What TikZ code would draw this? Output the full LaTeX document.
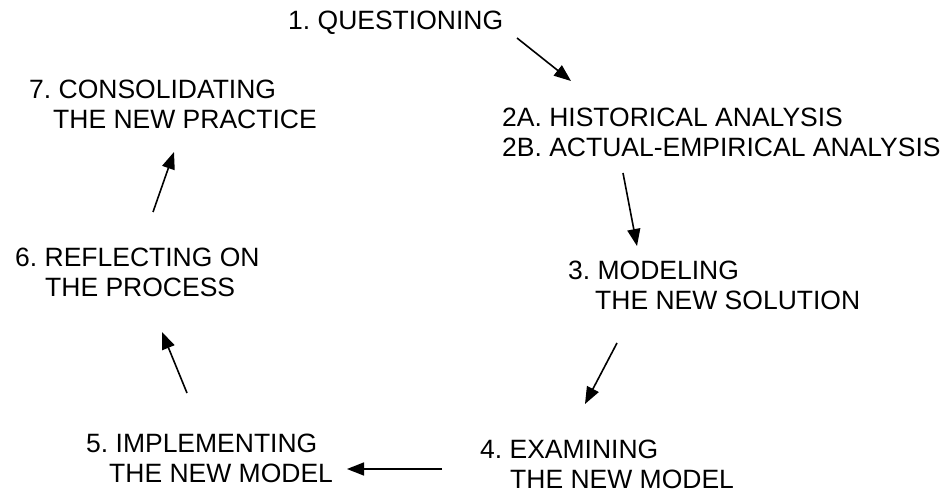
\documentclass[tikz,border=0pt]{standalone}
\usepackage{fontspec}
\setmainfont{Liberation Sans}
\usetikzlibrary{arrows.meta}
\frenchspacing
\begin{document}
\begin{tikzpicture}[x=1pt,y=-1pt,
  stage/.style={anchor=base west,inner sep=0pt,align=left,
    font=\fontsize{26.5}{30}\selectfont},
  flow/.style={line width=1.6pt,-{Triangle[length=17pt,width=13pt]}}]
\useasboundingbox (0,0) rectangle (948,494);
% stage labels (placed by the baseline of their last line)
\node[stage] (q) at (288,30) {1. QUESTIONING};
\node[stage] (an) at (502,157) {2A. HISTORICAL ANALYSIS\\2B. ACTUAL-EMPIRICAL ANALYSIS};
\node[stage] (mo) at (568,310) {3. MODELING\\\hspace*{27pt}THE NEW SOLUTION};
\node[stage] (ex) at (480,488) {4. EXAMINING\\\hspace*{30pt}THE NEW MODEL};
\node[stage] (im) at (86,482) {5. IMPLEMENTING\\\hspace*{23pt}THE NEW MODEL};
\node[stage] (re) at (15,297) {6. REFLECTING ON\\\hspace*{30pt}THE PROCESS};
\node[stage] (co) at (29,129) {7. CONSOLIDATING\\\hspace*{24pt}THE NEW PRACTICE};
% arrow end points
\coordinate (qA) at (517,38);   \coordinate (anA) at (571,81);
\coordinate (anB) at (623,173); \coordinate (moA) at (637,246);
\coordinate (moB) at (617,343); \coordinate (exA) at (585,404);
\coordinate (exB) at (442,469); \coordinate (imA) at (347,469);
\coordinate (imB) at (187,393); \coordinate (reA) at (162,332);
\coordinate (reB) at (153,212); \coordinate (coA) at (174,152);
% cycle
\draw[flow] (qA) -- (anA);
\draw[flow] (anB) -- (moA);
\draw[flow] (moB) -- (exA);
\draw[flow] (exB) -- (imA);
\draw[flow] (imB) -- (reA);
\draw[flow] (reB) -- (coA);
\end{tikzpicture}
\end{document}
